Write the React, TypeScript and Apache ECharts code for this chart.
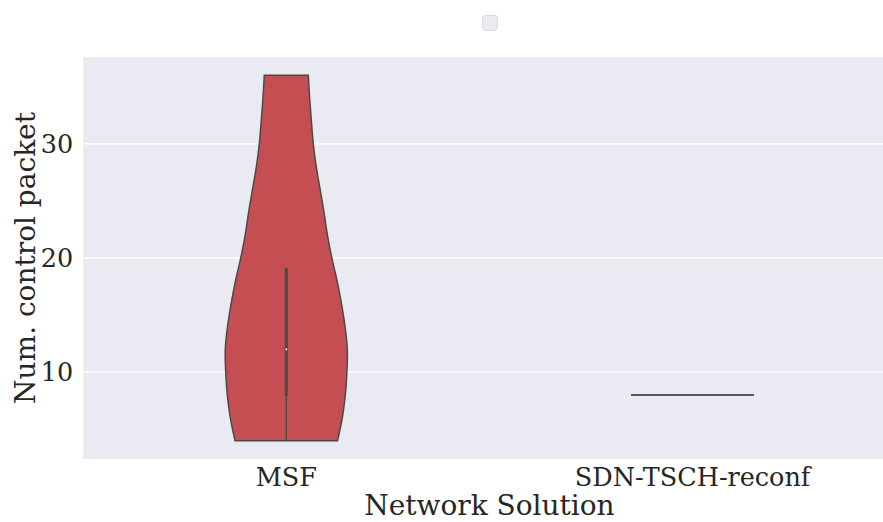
import React, { useEffect, useRef } from 'react';
import * as echarts from 'echarts';

const categories = ['MSF', 'SDN-TSCH-reconf'];
const yTicks = [10, 20, 30];
const yMin = 2.4;
const yMax = 37.6;

// MSF violin outline: value levels and relative half-width (density)
const msfLevels = [4, 6, 8, 10, 12, 14, 16, 18, 20, 22, 24, 26, 28, 30, 32, 34, 36];
const msfDensity = [0.834, 0.91, 0.959, 0.985, 0.992, 0.955, 0.897, 0.826, 0.741, 0.669, 0.613, 0.55, 0.487, 0.439, 0.408, 0.38, 0.358];
// MSF inner box: [whiskerLow, q1, median, q3, whiskerHigh]
const msfBox = [4, 8, 12, 19, 19];
// SDN-TSCH-reconf: single constant value
const sdnValues = [8];

const FONT = 'DejaVu Serif';
const TEXT = '#262626';
const EDGE = '#4a4a4a';

function catmull(pts: number[][], steps: number): number[][] {
  const out: number[][] = [];
  const n = pts.length;
  for (let i = 0; i < n - 1; i++) {
    const p0 = pts[Math.max(i - 1, 0)];
    const p1 = pts[i];
    const p2 = pts[i + 1];
    const p3 = pts[Math.min(i + 2, n - 1)];
    for (let s = 0; s < steps; s++) {
      const t = s / steps;
      const t2 = t * t;
      const t3 = t2 * t;
      const f = (a: number, b: number, c: number, d: number) =>
        0.5 * (2 * b + (-a + c) * t + (2 * a - 5 * b + 4 * c - d) * t2 + (-a + 3 * b - 3 * c + d) * t3);
      out.push([f(p0[0], p1[0], p2[0], p3[0]), f(p0[1], p1[1], p2[1], p3[1])]);
    }
  }
  out.push(pts[n - 1]);
  return out;
}

const HALF_FRAC = 0.1514;

export default function App() {
  const ref = useRef<HTMLDivElement>(null);
  useEffect(() => {
    if (!ref.current) return;
    const chart = echarts.init(ref.current, undefined, { renderer: 'svg' });
    const option: any = {
      animation: false,
      grid: {
        left: 83.2,
        right: -12.6,
        top: 57,
        bottom: 63,
        show: true,
        backgroundColor: '#eaeaf2',
        borderWidth: 0,
        containLabel: false,
        outerBoundsMode: 'none',
      },
      xAxis: {
        type: 'category',
        data: categories,
        boundaryGap: true,
        axisLine: { show: false },
        axisTick: { show: false },
        splitLine: { show: false },
        axisLabel: { fontFamily: FONT, fontSize: 25.5, color: TEXT, margin: 5 },
        name: 'Network Solution',
        nameLocation: 'middle',
        nameGap: 32,
        nameMoveOverlap: false,
        nameTextStyle: { fontFamily: FONT, fontSize: 28, lineHeight: 28, color: TEXT },
      },
      yAxis: {
        type: 'value',
        min: yMin,
        max: yMax,
        axisLine: { show: false },
        axisTick: { show: false },
        splitLine: { show: false },
        axisLabel: {
          customValues: yTicks,
          fontFamily: FONT,
          fontSize: 25.5,
          color: TEXT,
          margin: 10,
          formatter: (v: number) => (yTicks.indexOf(Math.round(v * 1000) / 1000) >= 0 ? String(v) : ''),
        },
        name: 'Num. control packet',
        nameLocation: 'middle',
        nameRotate: 90,
        nameGap: 44,
        nameMoveOverlap: false,
        nameTextStyle: { fontFamily: FONT, fontSize: 28, lineHeight: 28, color: TEXT },
      },
      graphic: [
        {
          type: 'rect',
          left: 482,
          top: 15,
          shape: { width: 15, height: 15, r: 3 },
          style: { fill: '#eaeaf2', stroke: '#d8d8de', lineWidth: 1 },
        },
      ],
      series: [
        {
          type: 'custom',
          z: 1,
          silent: true,
          data: yTicks.map((v) => [0, v]),
          encode: { x: 0, y: 1 },
          renderItem: (params: any, api: any) => {
            const cs = params.coordSys;
            const y = api.coord([0, api.value(1)])[1];
            return {
              type: 'line',
              shape: { x1: cs.x, y1: y, x2: cs.x + cs.width + 20, y2: y },
              style: { stroke: '#ffffff', lineWidth: 1.3 },
            };
          },
        },
        {
          type: 'custom',
          z: 2,
          silent: true,
          data: [[0, msfBox[2]]],
          encode: { x: 0, y: 1 },
          renderItem: (params: any, api: any) => {
            const ci = api.value(0);
            const c0 = api.coord([0, yMin]);
            const c1 = api.coord([1, yMin]);
            const bandW = Math.abs(c1[0] - c0[0]);
            const maxHalf = bandW * HALF_FRAC;
            const cx = api.coord([ci, msfLevels[0]])[0];
            const right = msfLevels.map((v, i) => [cx + msfDensity[i] * maxHalf, api.coord([ci, v])[1]]);
            const left = right.map(([x, y]) => [2 * cx - x, y]);
            const rs = catmull(right, 10);
            const ls = catmull(left, 10).reverse();
            const pts = rs.concat(ls);
            const yOf = (v: number) => api.coord([ci, v])[1];
            return {
              type: 'group',
              children: [
                {
                  type: 'polygon',
                  shape: { points: pts },
                  style: { fill: '#c44e52', stroke: EDGE, lineWidth: 1.5 },
                },
                {
                  type: 'line',
                  shape: { x1: cx, y1: yOf(msfBox[0]), x2: cx, y2: yOf(msfBox[1]) },
                  style: { stroke: EDGE, lineWidth: 1.3 },
                },
                {
                  type: 'line',
                  shape: { x1: cx, y1: yOf(msfBox[4]), x2: cx, y2: yOf(msfBox[3]) },
                  style: { stroke: EDGE, lineWidth: 1.3 },
                },
                {
                  type: 'line',
                  shape: { x1: cx, y1: yOf(msfBox[1]), x2: cx, y2: yOf(msfBox[3]) },
                  style: { stroke: EDGE, lineWidth: 3.2, lineCap: 'round' },
                },
                {
                  type: 'circle',
                  shape: { cx: cx, cy: yOf(msfBox[2]), r: 1 },
                  style: { fill: '#e0e0e0' },
                },
              ],
            };
          },
        },
        {
          type: 'custom',
          z: 2,
          silent: true,
          data: sdnValues.map((v) => [1, v]),
          encode: { x: 0, y: 1 },
          renderItem: (params: any, api: any) => {
            const ci = api.value(0);
            const c0 = api.coord([0, yMin]);
            const c1 = api.coord([1, yMin]);
            const bandW = Math.abs(c1[0] - c0[0]);
            const maxHalf = bandW * HALF_FRAC;
            const p = api.coord([ci, api.value(1)]);
            return {
              type: 'line',
              shape: { x1: p[0] - maxHalf, y1: p[1], x2: p[0] + maxHalf, y2: p[1] },
              style: { stroke: '#5a5a5a', lineWidth: 2 },
            };
          },
        },
      ],
    };
    chart.setOption(option);
    return () => chart.dispose();
  }, []);
  return <div ref={ref} style={{ position: 'absolute', left: 0, top: 0, width: 883, height: 522 }} />;
}
